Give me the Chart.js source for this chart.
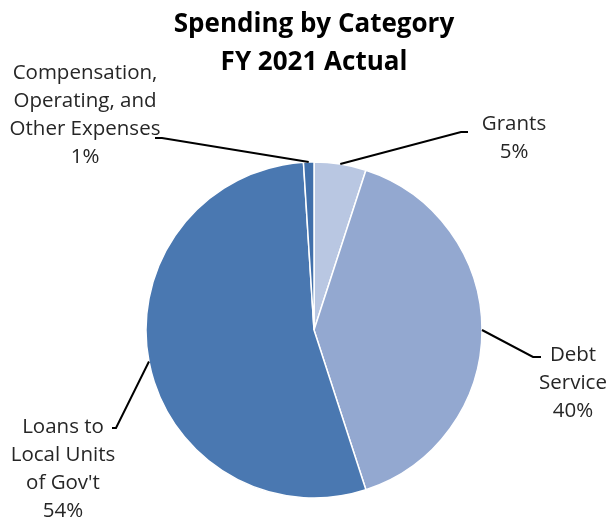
<!DOCTYPE html>
<html>
<head>
<meta charset="utf-8">
<title>Spending by Category FY 2021 Actual</title>
<script src="https://cdn.jsdelivr.net/npm/chart.js@4.4.1/dist/chart.umd.min.js"></script>
<style>
    html, body { margin: 0; padding: 0; background: #fff; }
    #wrap { width: 608px; height: 521px; }
</style>
</head>
<body>
<div id="wrap"><canvas id="spendChart"></canvas></div>
<script>
const categories = ['Grants', 'Debt Service', 'Loans to Local Units of Gov\'t', 'Compensation, Operating, and Other Expenses'];
const spending = [5, 40, 54, 1];
const labelLines = [
    ['Grants'],
    ['Debt', 'Service'],
    ['Loans to', 'Local Units', 'of Gov\'t'],
    ['Compensation,', 'Operating, and', 'Other Expenses']
];
const sliceColors = ['#B9C7E2', '#93A8D0', '#4A78B1', '#4170AB'];

// label placement, offsets from pie centre: elbow corner, elbow end, first text line centre
const labelPlacement = [
    { cx: 147, cy: -198, ex: 154, tx: 200, ty: -206 },
    { cx: 219, cy: 27, ex: 227, tx: 259, ty: 25 },
    { cx: -198, cy: 98, ex: -202, tx: -251, ty: 97 },
    { cx: -152, cy: -192, ex: -159, tx: -229, ty: -257 }
];

const leaderLabels = {
    id: 'leaderLabels',
    afterDraw(chart) {
        const ctx = chart.ctx;
        const arcs = chart.getDatasetMeta(0).data;
        const total = spending.reduce((a, b) => a + b, 0);
        ctx.save();
        arcs.forEach((arc, i) => {
            const p = labelPlacement[i];
            const mid = (arc.startAngle + arc.endAngle) / 2;
            const sx = arc.x + arc.outerRadius * Math.cos(mid);
            const sy = arc.y + arc.outerRadius * Math.sin(mid);
            ctx.strokeStyle = '#000';
            ctx.lineWidth = 2;
            ctx.beginPath();
            ctx.moveTo(sx, sy);
            ctx.lineTo(arc.x + p.cx, arc.y + p.cy);
            ctx.lineTo(arc.x + p.ex, arc.y + p.cy);
            ctx.stroke();

            const lines = labelLines[i].concat([Math.round(spending[i] / total * 100) + '%']);
            ctx.fillStyle = '#262626';
            ctx.font = '20.5px "Open Sans"';
            ctx.textAlign = 'center';
            ctx.textBaseline = 'middle';
            lines.forEach((t, k) => {
                ctx.fillText(t, arc.x + p.tx, arc.y + p.ty + k * 28);
            });
        });
        ctx.restore();
    }
};

const ctx = document.getElementById('spendChart').getContext('2d');
new Chart(ctx, {
    type: 'pie',
    data: {
        labels: categories,
        datasets: [{
            data: spending,
            backgroundColor: sliceColors,
            borderColor: '#fff',
            borderWidth: 1.5,
            hoverOffset: 0
        }]
    },
    options: {
        responsive: true,
        maintainAspectRatio: false,
        animation: false,
        radius: 168,
        layout: { padding: { left: 20, right: 0, top: 0, bottom: 0 } },
        plugins: {
            legend: { display: false },
            tooltip: { enabled: false },
            title: {
                display: true,
                text: ['Spending by Category', 'FY 2021 Actual'],
                color: '#000',
                font: { family: '"Open Sans"', size: 26, weight: 'bold', lineHeight: 38 / 26 },
                padding: { top: 6, bottom: 57 }
            }
        }
    },
    plugins: [leaderLabels]
});
</script>
</body>
</html>
